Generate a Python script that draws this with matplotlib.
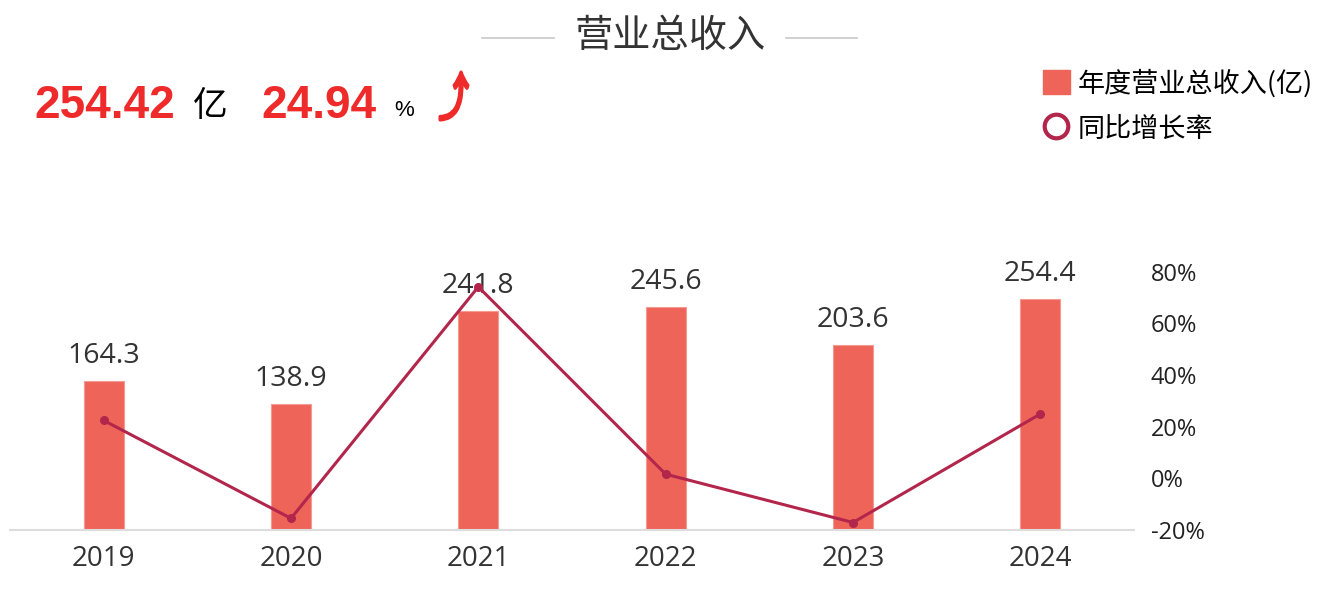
import matplotlib
matplotlib.use("Agg")
import matplotlib.pyplot as plt
from matplotlib.patches import Patch, PathPatch
from matplotlib.lines import Line2D
from matplotlib.textpath import TextPath
from matplotlib.font_manager import FontProperties, findfont
from matplotlib.ft2font import FT2Font
from matplotlib.transforms import Affine2D, IdentityTransform
import numpy as np

plt.rcParams["font.family"] = ["Open Sans", "Noto Sans CJK SC", "DejaVu Sans"]

# data
years = ["2019", "2020", "2021", "2022", "2023", "2024"]
revenue = [164.3, 138.9, 241.8, 245.6, 203.6, 254.4]          # 亿
growth = [22.4, -15.5, 74.1, 1.6, -17.1, 24.9]                  # %
headline_value = "254.42"
headline_growth = "24.94"

BAR = "#EE6459"
LINE = "#B3264C"
TXT = "#333333"

W, H = 1342, 590
fig = plt.figure(figsize=(W / 100, H / 100), dpi=100)


def fx(x):
    return x / W


def fy(y):
    return 1 - y / H


# plot area: x 10..1134 px, y 271.6 (80%) .. 530 (baseline)
ax = fig.add_axes([fx(10), fy(530), fx(1134) - fx(10), fy(271.6) - fy(530)])
x = np.arange(len(years))
ax.bar(x, revenue, width=0.215, color=BAR, edgecolor="#F49A92", linewidth=0.8, zorder=2)
ax.set_xlim(-0.5, len(years) - 0.5)
ax.set_ylim(0, 284.9)
ax.set_xticks(x)
ax.set_xticklabels(years, fontsize=20, color=TXT)
ax.tick_params(axis="x", length=0, pad=11)
ax.set_yticks([])
for s in ["left", "right", "top"]:
    ax.spines[s].set_visible(False)
ax.spines["bottom"].set_color("#DDDDDD")
ax.spines["bottom"].set_linewidth(1.5)

for xi, v in zip(x, revenue):
    ax.annotate(f"{v:.1f}", (xi, v), xytext=(0, 18), textcoords="offset points",
                ha="center", va="center", fontsize=20.5, color=TXT)

ax2 = ax.twinx()
ax2.plot(x, growth, color=LINE, lw=2.2, marker="o", ms=5.5, zorder=3)
ax2.set_ylim(-20, 80)
ax2.set_yticks([-20, 0, 20, 40, 60, 80])
ax2.set_yticklabels([f"{t}%" for t in [-20, 0, 20, 40, 60, 80]], fontsize=17, color="#222222")
ax2.tick_params(axis="y", length=0, pad=12)
for s in ["left", "right", "top", "bottom"]:
    ax2.spines[s].set_visible(False)

# title with side rules
fig.text(fx(670), fy(36), "营业总收入", ha="center", va="center", fontsize=27.5, color=TXT,
         family=["Noto Sans CJK SC", "DejaVu Sans"])
for x0, x1 in [(482, 554), (786, 857)]:
    fig.add_artist(Line2D([fx(x0), fx(x1)], [fy(37.7), fy(37.7)], color="#C8C8C8", lw=1.2))

# headline figures
RED = "#EE2A2A"
fig.text(fx(34), fy(106), headline_value, ha="left", va="center", fontsize=33,
         fontweight="bold", color=RED, family="Liberation Sans")
fig.text(fx(193), fy(106), "亿", ha="left", va="center", fontsize=25, color="black",
         family=["Noto Sans CJK SC", "DejaVu Sans"])
fig.text(fx(261), fy(106), headline_growth, ha="left", va="center", fontsize=33,
         fontweight="bold", color=RED, family="Liberation Sans")
fig.text(fx(394), fy(111), "%", ha="left", va="center", fontsize=16, color="black",
         family="Liberation Sans")

# the up-arrow glyph: find an installed family that has it, then stretch it
# to the tall shape of the reference and thicken it
ARROW = "⤴"
arrow_font = "DejaVu Sans"
for fam in ["DejaVu Sans", "Noto Sans", "Noto Sans CJK SC", "Liberation Sans",
            "DejaVu Sans Mono", "DejaVu Serif", "Roboto", "Inter", "Lato", "Open Sans"]:
    fp = findfont(FontProperties(family=fam), fallback_to_default=False)
    if ord(ARROW) in FT2Font(fp).get_charmap():
        arrow_font = fam
        break
arrow = TextPath((0, 0), ARROW, size=40, prop=FontProperties(family=arrow_font))
ext = arrow.get_extents()
box_x0, box_x1, box_top, box_bot = 440, 468, 72, 120
tr = (Affine2D().translate(-ext.x0, -ext.y0)
      .scale((box_x1 - box_x0) / ext.width, (box_bot - box_top) / ext.height)
      .translate(box_x0, H - box_bot))
fig.add_artist(PathPatch(tr.transform_path(arrow), transform=IdentityTransform(),
                         facecolor=RED, edgecolor=RED, lw=2.2, joinstyle="round"))

# legend
handles = [Patch(facecolor=BAR, edgecolor=BAR),
           Line2D([], [], ls="", marker="o", ms=17, mfc="white", mec=LINE, mew=3)]
fig.legend(handles, ["年度营业总收入(亿)", "同比增长率"], loc="upper left",
           bbox_to_anchor=(fx(1032), fy(58)), frameon=False,
           handlelength=1.0, handleheight=1.0, handletextpad=0.3, labelspacing=0.68,
           borderaxespad=0, prop={"family": ["Noto Sans CJK SC", "DejaVu Sans"], "size": 19.5})

fig.savefig("out.png", dpi=100, facecolor="white")
